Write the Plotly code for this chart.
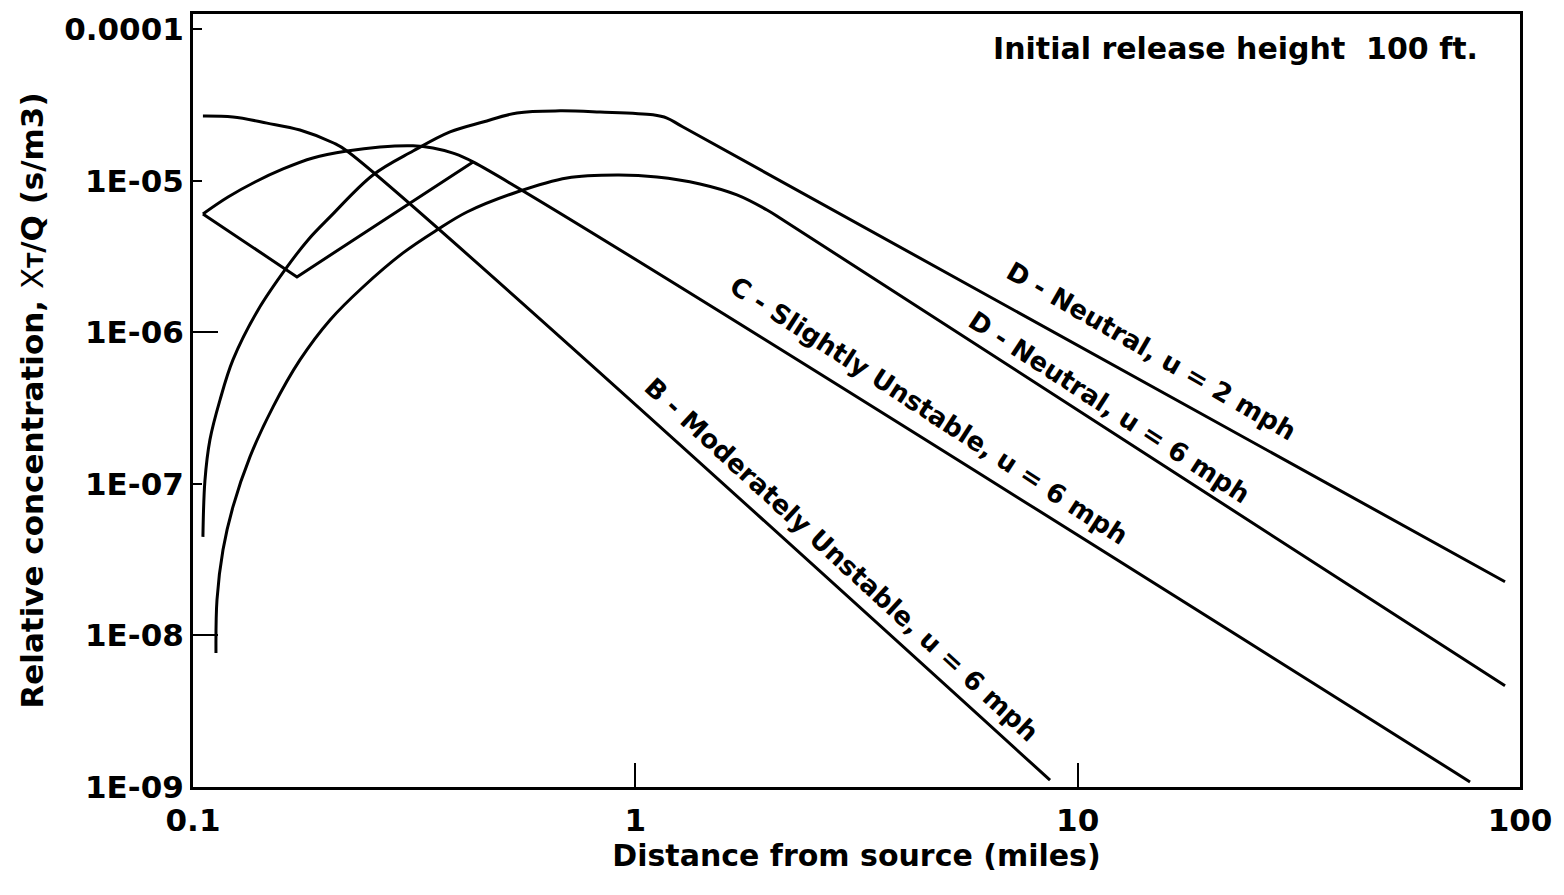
import plotly.graph_objects as go

# Distance from source (miles) and relative concentration (s/m3) for each case
b_x = [0.1053, 0.1231, 0.1470, 0.1745, 0.2073, 0.2229, 8.66]
b_y = [2.67e-5, 2.63e-5, 2.40e-5, 2.16e-5, 1.78e-5, 1.57e-5, 1.11e-9]

c_x = [0.1053, 0.1200, 0.1381, 0.1598, 0.1867, 0.2229, 0.2647, 0.3144,
       0.3487, 0.3872, 0.4296, 77.1]
c_y = [6.04e-6, 7.81e-6, 9.81e-6, 1.196e-5, 1.413e-5, 1.57e-5, 1.67e-5,
       1.70e-5, 1.645e-5, 1.52e-5, 1.33e-5, 1.08e-9]

# lower branch of the C curve between 0.1 and 0.43 miles
c_low_x = [0.1053, 0.1718, 0.4296]
c_low_y = [6.04e-6, 2.32e-6, 1.33e-5]

d2_x = [0.1053, 0.1064, 0.1092, 0.1151, 0.1231, 0.1403, 0.1632, 0.1820,
        0.2041, 0.2552, 0.3144, 0.3811, 0.4524, 0.5402, 0.6758, 0.8321,
        1.096, 1.179, 1.282, 92.5]
d2_y = [4.47e-8, 1.046e-7, 1.95e-7, 3.58e-7, 6.57e-7, 1.404e-6, 2.70e-6,
        4.07e-6, 5.77e-6, 1.091e-5, 1.57e-5, 2.10e-5, 2.44e-5, 2.80e-5,
        2.89e-5, 2.84e-5, 2.72e-5, 2.59e-5, 2.26e-5, 2.26e-8]

d6_x = [0.1127, 0.1133, 0.1169, 0.1231, 0.1345, 0.1517, 0.1745, 0.2041,
        0.2423, 0.2985, 0.3560, 0.4163, 0.5402, 0.7007, 0.9090, 1.119,
        1.400, 1.697, 1.985, 2.157, 92.5]
d6_y = [7.67e-9, 1.72e-8, 3.67e-8, 7.05e-8, 1.506e-7, 3.22e-7, 6.57e-7,
        1.206e-6, 1.99e-6, 3.34e-6, 4.73e-6, 6.22e-6, 8.43e-6, 1.043e-5,
        1.091e-5, 1.059e-5, 9.52e-6, 8.06e-6, 6.41e-6, 5.51e-6, 4.65e-9]

x_ticks = [0.1, 1, 10, 100]
x_tick_text = ["0.1", "1", "10", "100"]
y_ticks = [1e-9, 1e-8, 1e-7, 1e-6, 1e-5, 1e-4]
y_tick_text = ["1E-09", "1E-08", "1E-07", "1E-06", "1E-05", "0.0001"]

curve_labels = [
    "D - Neutral, u = 2 mph",
    "D - Neutral, u = 6 mph",
    "C - Slightly Unstable, u = 6 mph",
    "B - Moderately Unstable, u = 6 mph",
]

FONT = "DejaVu Sans"
line_style = dict(color="black", width=3)

fig = go.Figure()
for xs, ys, shape in [(b_x, b_y, "spline"), (c_x, c_y, "spline"),
                      (c_low_x, c_low_y, "linear"), (d2_x, d2_y, "spline"),
                      (d6_x, d6_y, "spline")]:
    fig.add_trace(go.Scatter(
        x=xs, y=ys, mode="lines",
        line=dict(shape=shape, smoothing=1.0, **line_style),
        hoverinfo="skip", showlegend=False,
    ))

fig.update_layout(
    width=1564, height=895,
    margin=dict(l=193, r=44, t=14, b=108, autoexpand=False),
    plot_bgcolor="white", paper_bgcolor="white",
    showlegend=False,
    font=dict(family=FONT, size=31, color="black", weight="bold"),
)

fig.update_xaxes(
    type="log", range=[-1.00001, 2.00001], automargin=False,
    tickmode="array", tickvals=x_ticks, ticktext=x_tick_text,
    ticks="inside", ticklen=24, tickwidth=2, tickcolor="black",
    showline=True, linewidth=3, linecolor="black", mirror=True,
    showgrid=False, zeroline=False,
    tickfont=dict(family=FONT, size=31, weight="bold"),
    ticklabelstandoff=4, ticklabeloverflow="allow",
    title=dict(text="Distance from source (miles)",
               font=dict(family=FONT, size=30, weight="bold"), standoff=2),
)

fig.update_yaxes(
    type="log", range=[-9.00001, -3.9], automargin=False,
    tickmode="array", tickvals=y_ticks, ticktext=y_tick_text,
    ticks="inside", ticklen=9, tickwidth=2, tickcolor="black",
    minor=dict(tickmode="array", tickvals=[1e-8, 1e-6], ticks="inside",
               ticklen=25, tickwidth=2, tickcolor="black", showgrid=False),
    showline=True, linewidth=3, linecolor="black", mirror=True,
    showgrid=False, zeroline=False,
    tickfont=dict(family=FONT, size=31, weight="bold"),
    ticklabelstandoff=0, ticklabeloverflow="allow",
    title=dict(text='Relative concentration, <span style="font-weight:normal">Χ</span>'
                    '<span style="font-size:22px">T</span>/Q (s/m3)',
               font=dict(family=FONT, size=31, weight="bold"), standoff=12),
)

# curve labels: (log10 x, log10 y, angle)
label_pos = [(1.1658, -6.1230, 30), (1.0709, -6.4923, 33),
             (0.6648, -6.5174, 33), (0.4672, -7.5016, 42.5)]
for text, (lx, ly, ang) in zip(curve_labels, label_pos):
    fig.add_annotation(
        x=lx, y=ly, xref="x", yref="y", text=text, textangle=ang,
        showarrow=False, xanchor="center", yanchor="middle",
        font=dict(family=FONT, size=26, weight="bold", color="black"),
    )

fig.add_annotation(
    x=0.7855, y=0.956, xref="paper", yref="paper",
    text="Initial release height\u00a0 100 ft.", showarrow=False,
    xanchor="center", yanchor="middle",
    font=dict(family=FONT, size=30, weight="bold", color="black"),
)

fig.write_html("out.html")
